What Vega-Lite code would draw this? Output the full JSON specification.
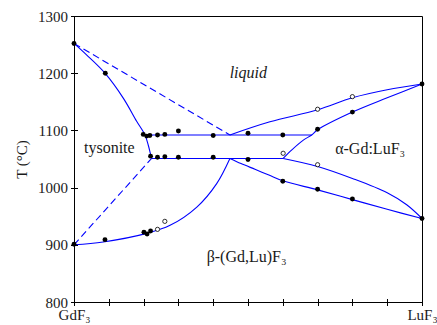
{
  "$schema": "https://vega.github.io/schema/vega-lite/v6.json",
  "autosize": "none",
  "width": 348,
  "height": 286,
  "padding": {"left": 74, "top": 16, "right": 15, "bottom": 23},
  "background": "white",
  "config": {
    "view": {"stroke": "black", "strokeWidth": 1},
    "font": "Liberation Serif",
    "axis": {"grid": false, "labelFont": "Liberation Serif", "titleFont": "Liberation Serif", "labelColor": "#1a1a1a", "titleColor": "#1a1a1a", "tickColor": "black", "domain": false}
  },
  "datasets": {
    "curves": [
      {"curve": "liq_left", "dashed": false, "i": 0, "x": 0, "T": 1252},
      {"curve": "liq_left", "dashed": false, "i": 1, "x": 0.036, "T": 1232},
      {"curve": "liq_left", "dashed": false, "i": 2, "x": 0.089, "T": 1200},
      {"curve": "liq_left", "dashed": false, "i": 3, "x": 0.142, "T": 1156},
      {"curve": "liq_left", "dashed": false, "i": 4, "x": 0.18, "T": 1116},
      {"curve": "liq_left", "dashed": false, "i": 5, "x": 0.204, "T": 1092},
      {"curve": "liq_left", "dashed": false, "i": 6, "x": 0.2135, "T": 1074},
      {"curve": "liq_left", "dashed": false, "i": 7, "x": 0.22, "T": 1058},
      {"curve": "liq_left", "dashed": false, "i": 8, "x": 0.223, "T": 1051},
      {"curve": "upper_h", "dashed": false, "i": 0, "x": 0.205, "T": 1092},
      {"curve": "upper_h", "dashed": false, "i": 1, "x": 0.683, "T": 1092},
      {"curve": "lower_h", "dashed": false, "i": 0, "x": 0.223, "T": 1051},
      {"curve": "lower_h", "dashed": false, "i": 1, "x": 0.601, "T": 1051},
      {"curve": "liq_right", "dashed": false, "i": 0, "x": 0.448, "T": 1092},
      {"curve": "liq_right", "dashed": false, "i": 1, "x": 0.563, "T": 1115},
      {"curve": "liq_right", "dashed": false, "i": 2, "x": 0.7, "T": 1136},
      {"curve": "liq_right", "dashed": false, "i": 3, "x": 0.8, "T": 1157},
      {"curve": "liq_right", "dashed": false, "i": 4, "x": 0.9, "T": 1171},
      {"curve": "liq_right", "dashed": false, "i": 5, "x": 1.0, "T": 1181},
      {"curve": "sol_alpha", "dashed": false, "i": 0, "x": 0.601, "T": 1051},
      {"curve": "sol_alpha", "dashed": false, "i": 1, "x": 0.626, "T": 1066},
      {"curve": "sol_alpha", "dashed": false, "i": 2, "x": 0.659, "T": 1083},
      {"curve": "sol_alpha", "dashed": false, "i": 3, "x": 0.683, "T": 1092},
      {"curve": "sol_alpha", "dashed": false, "i": 4, "x": 0.7, "T": 1101},
      {"curve": "sol_alpha", "dashed": false, "i": 5, "x": 0.8, "T": 1132},
      {"curve": "sol_alpha", "dashed": false, "i": 6, "x": 0.9, "T": 1157},
      {"curve": "sol_alpha", "dashed": false, "i": 7, "x": 1.0, "T": 1181},
      {"curve": "ab_upper", "dashed": false, "i": 0, "x": 0.601, "T": 1051},
      {"curve": "ab_upper", "dashed": false, "i": 1, "x": 0.7, "T": 1037},
      {"curve": "ab_upper", "dashed": false, "i": 2, "x": 0.8, "T": 1016},
      {"curve": "ab_upper", "dashed": false, "i": 3, "x": 0.9, "T": 991},
      {"curve": "ab_upper", "dashed": false, "i": 4, "x": 0.956, "T": 970},
      {"curve": "ab_upper", "dashed": false, "i": 5, "x": 1.0, "T": 946},
      {"curve": "ab_lower", "dashed": false, "i": 0, "x": 0.448, "T": 1051},
      {"curve": "ab_lower", "dashed": false, "i": 1, "x": 0.48, "T": 1042},
      {"curve": "ab_lower", "dashed": false, "i": 2, "x": 0.52, "T": 1032},
      {"curve": "ab_lower", "dashed": false, "i": 3, "x": 0.56, "T": 1022},
      {"curve": "ab_lower", "dashed": false, "i": 4, "x": 0.6, "T": 1012},
      {"curve": "ab_lower", "dashed": false, "i": 5, "x": 0.7, "T": 996},
      {"curve": "ab_lower", "dashed": false, "i": 6, "x": 0.8, "T": 979},
      {"curve": "ab_lower", "dashed": false, "i": 7, "x": 0.9, "T": 962},
      {"curve": "ab_lower", "dashed": false, "i": 8, "x": 1.0, "T": 946},
      {"curve": "beta_solvus", "dashed": false, "i": 0, "x": 0, "T": 900},
      {"curve": "beta_solvus", "dashed": false, "i": 1, "x": 0.084, "T": 905},
      {"curve": "beta_solvus", "dashed": false, "i": 2, "x": 0.209, "T": 920},
      {"curve": "beta_solvus", "dashed": false, "i": 3, "x": 0.276, "T": 934},
      {"curve": "beta_solvus", "dashed": false, "i": 4, "x": 0.353, "T": 966},
      {"curve": "beta_solvus", "dashed": false, "i": 5, "x": 0.41, "T": 1007},
      {"curve": "beta_solvus", "dashed": false, "i": 6, "x": 0.448, "T": 1051},
      {"curve": "dash_top", "dashed": true, "i": 0, "x": 0, "T": 1252},
      {"curve": "dash_top", "dashed": true, "i": 1, "x": 0.448, "T": 1092},
      {"curve": "dash_bottom", "dashed": true, "i": 0, "x": 0, "T": 900},
      {"curve": "dash_bottom", "dashed": true, "i": 1, "x": 0.223, "T": 1051}
    ],
    "points": [
      {"x": 0, "T": 1252, "open": false},
      {"x": 0.09, "T": 1200, "open": false},
      {"x": 0.199, "T": 1093, "open": false},
      {"x": 0.209, "T": 1090, "open": false},
      {"x": 0.218, "T": 1091, "open": false},
      {"x": 0.24, "T": 1092, "open": false},
      {"x": 0.261, "T": 1093, "open": false},
      {"x": 0.3, "T": 1099, "open": false},
      {"x": 0.4, "T": 1091, "open": false},
      {"x": 0.5, "T": 1095, "open": false},
      {"x": 0.6, "T": 1092, "open": false},
      {"x": 0.7, "T": 1102, "open": false},
      {"x": 0.8, "T": 1132, "open": false},
      {"x": 1.0, "T": 1181, "open": false},
      {"x": 0.22, "T": 1055, "open": false},
      {"x": 0.24, "T": 1053, "open": false},
      {"x": 0.261, "T": 1054, "open": false},
      {"x": 0.3, "T": 1053, "open": false},
      {"x": 0.4, "T": 1053, "open": false},
      {"x": 0.5, "T": 1049, "open": false},
      {"x": 0.6, "T": 1011, "open": false},
      {"x": 0.7, "T": 997, "open": false},
      {"x": 0.8, "T": 980, "open": false},
      {"x": 1.0, "T": 946, "open": false},
      {"x": 0, "T": 901, "open": false},
      {"x": 0.089, "T": 909, "open": false},
      {"x": 0.201, "T": 922, "open": false},
      {"x": 0.21, "T": 919, "open": false},
      {"x": 0.22, "T": 924, "open": false},
      {"x": 0.24, "T": 927, "open": true},
      {"x": 0.261, "T": 941, "open": true},
      {"x": 0.601, "T": 1060, "open": true},
      {"x": 0.7, "T": 1040, "open": true},
      {"x": 0.7, "T": 1137, "open": true},
      {"x": 0.8, "T": 1159, "open": true}
    ],
    "labels": [
      {"x": 0.501, "T": 1200, "text": "liquid", "italic": true},
      {"x": 0.1015, "T": 1070, "text": "tysonite", "italic": false},
      {"x": 0.851, "T": 1067, "text": "α-Gd:LuF₃", "italic": false},
      {"x": 0.496, "T": 879, "text": "β-(Gd,Lu)F₃", "italic": false}
    ]
  },
  "encoding": {
    "x": {"field": "x", "type": "quantitative",
      "scale": {"domain": [0, 1], "nice": false, "zero": false},
      "axis": {"title": null, "values": [0, 0.1, 0.2, 0.3, 0.4, 0.5, 0.6, 0.7, 0.8, 0.9, 1], "offset": -3.5, "tickSize": 7, "tickWidth": 1,
        "labelExpr": "datum.value == 0 ? 'GdF₃' : (datum.value == 1 ? 'LuF₃' : '')", "labelFontSize": 15, "labelPadding": 2, "labelFlush": false, "labelOverlap": false}},
    "y": {"field": "T", "type": "quantitative",
      "scale": {"domain": [800, 1300], "nice": false, "zero": false},
      "axis": {"title": "T (°C)", "format": "d", "values": [800, 900, 1000, 1100, 1200, 1300], "offset": -3.5, "tickSize": 7, "tickWidth": 1,
        "labelFontSize": 15, "labelPadding": 3, "titleFontSize": 15, "titleFontWeight": "normal", "titlePadding": 8, "labelFlush": false}}
  },
  "layer": [
    {
      "data": {"name": "curves"},
      "transform": [{"filter": "!datum.dashed"}],
      "mark": {"type": "line", "color": "#0000ff", "strokeWidth": 1.1, "interpolate": "catmull-rom"},
      "encoding": {"detail": {"field": "curve"}, "order": {"field": "i", "type": "quantitative"}}
    },
    {
      "data": {"name": "curves"},
      "transform": [{"filter": "datum.dashed"}],
      "mark": {"type": "line", "color": "#0000ff", "strokeWidth": 1.1, "strokeDash": [7, 4]},
      "encoding": {"detail": {"field": "curve"}, "order": {"field": "i", "type": "quantitative"}}
    },
    {
      "data": {"name": "points"},
      "transform": [{"filter": "!datum.open"}],
      "mark": {"type": "point", "shape": "circle", "filled": true, "color": "black", "size": 24, "opacity": 1}
    },
    {
      "data": {"name": "points"},
      "transform": [{"filter": "datum.open"}],
      "mark": {"type": "point", "shape": "circle", "filled": true, "fill": "white", "stroke": "black", "strokeWidth": 0.8, "size": 18, "opacity": 1}
    },
    {
      "data": {"name": "labels"},
      "transform": [{"filter": "datum.italic"}],
      "mark": {"type": "text", "font": "Liberation Serif", "fontSize": 16, "fontStyle": "italic", "color": "#1a1a1a", "baseline": "middle", "align": "center"},
      "encoding": {"text": {"field": "text"}}
    },
    {
      "data": {"name": "labels"},
      "transform": [{"filter": "!datum.italic"}],
      "mark": {"type": "text", "font": "Liberation Serif", "fontSize": 16, "color": "#1a1a1a", "baseline": "middle", "align": "center"},
      "encoding": {"text": {"field": "text"}}
    }
  ]
}
